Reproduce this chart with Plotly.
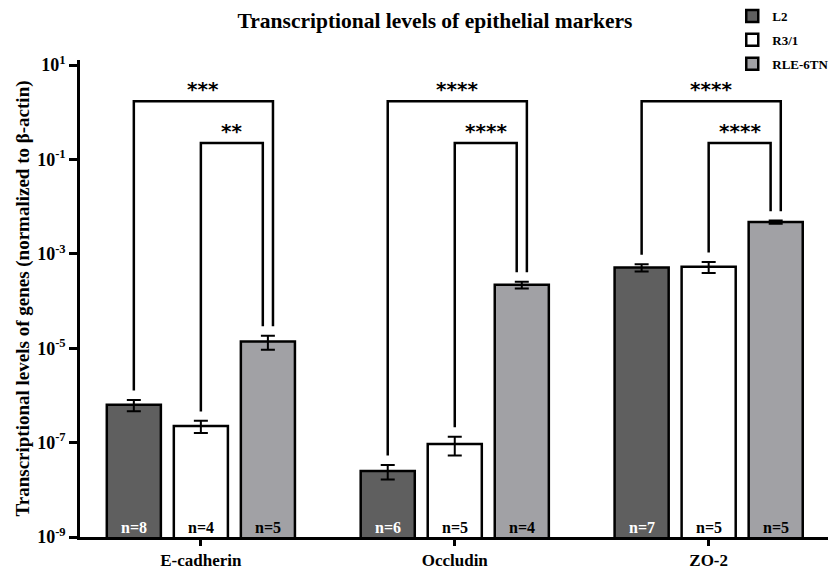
import math
import plotly.graph_objects as go

# ---------------- data ----------------
categories = ["E-cadherin", "Occludin", "ZO-2"]
series_names = ["L2", "R3/1", "RLE-6TN"]

l2_mean = [6.3e-7, 2.5e-8, 5.1e-4]
l2_sem = [1.7e-7, 0.85e-8, 0.9e-4]
r31_mean = [2.24e-7, 9.3e-8, 5.3e-4]
r31_sem = [0.65e-7, 4.0e-8, 1.4e-4]
rle_mean = [1.38e-5, 2.2e-4, 4.7e-3]
rle_sem = [0.45e-5, 0.35e-4, 0.35e-3]

n_l2 = [8, 6, 7]
n_r31 = [4, 5, 5]
n_rle = [5, 4, 5]

sig_outer = ["***", "****", "****"]   # L2 vs RLE-6TN
sig_inner = ["**", "****", "****"]    # R3/1 vs RLE-6TN

ytick_exponents = [1, -1, -3, -5, -7, -9]

# ---------------- styling ----------------
SERIF = "Liberation Serif, Times New Roman, serif"
STAR_FONT = "DejaVu Sans, sans-serif"
colors = ["#5f5f5f", "#ffffff", "#a1a1a5"]
text_colors = ["white", "black", "black"]
offsets = [-0.264, 0.0, 0.264]
bar_width = 0.213
leg_dx = 0.02
outer_y = 10 ** 0.23
inner_y = 10 ** -0.65
leg_gap = 10 ** 0.2

# page body has an 8px margin: figure is sized/offset to compensate
W, H, PAD = 839, 570, 8
FW, FH = W - PAD, H - PAD

means = [l2_mean, r31_mean, rle_mean]
sems = [l2_sem, r31_sem, rle_sem]
ns = [n_l2, n_r31, n_rle]

fig = go.Figure()

for s in range(3):
    xs = [i + offsets[s] for i in range(len(categories))]
    fig.add_trace(go.Bar(
        x=xs, y=means[s], width=bar_width, name="<b>%s</b>" % series_names[s],
        legendgroup=series_names[s],
        marker=dict(color=colors[s], line=dict(color="black", width=2.5)),
        error_y=dict(type="data", array=sems[s], color="black", thickness=2, width=7),
    ))

annotations = []
for i in range(len(categories)):
    top = [means[s][i] + sems[s][i] for s in range(3)]
    x_l2 = i + offsets[0]
    x_r = i + offsets[1]
    x_rle = i + offsets[2]
    fig.add_trace(go.Scatter(
        x=[x_l2, x_l2, x_rle + leg_dx, x_rle + leg_dx],
        y=[top[0] * leg_gap, outer_y, outer_y, top[2] * leg_gap],
        mode="lines", line=dict(color="black", width=2.5),
        showlegend=False, hoverinfo="skip"))
    fig.add_trace(go.Scatter(
        x=[x_r, x_r, x_rle - leg_dx, x_rle - leg_dx],
        y=[top[1] * leg_gap, inner_y, inner_y, top[2] * leg_gap],
        mode="lines", line=dict(color="black", width=2.5),
        showlegend=False, hoverinfo="skip"))
    annotations.append(dict(
        x=(x_l2 + x_rle + leg_dx) / 2, y=math.log10(outer_y), xref="x", yref="y",
        text="<b>%s</b>" % sig_outer[i], showarrow=False, yanchor="bottom", yshift=-2,
        font=dict(family=STAR_FONT, size=20, color="black")))
    annotations.append(dict(
        x=(x_r + x_rle - leg_dx) / 2, y=math.log10(inner_y), xref="x", yref="y",
        text="<b>%s</b>" % sig_inner[i], showarrow=False, yanchor="bottom", yshift=-2,
        font=dict(family=STAR_FONT, size=20, color="black")))
    for s in range(3):
        annotations.append(dict(
            x=i + offsets[s], y=-9, xref="x", yref="y",
            text="<b>n=%d</b>" % ns[s][i], showarrow=False, yanchor="bottom", yshift=-1,
            font=dict(family=SERIF, size=16, color=text_colors[s])))

annotations.append(dict(
    x=(22 - 80) / 748, y=0.5, xref="paper", yref="paper",
    text="<b>Transcriptional levels of genes (normalized to β-actin)</b>",
    textangle=-90, showarrow=False, xanchor="center", yanchor="middle",
    font=dict(family=SERIF, size=19, color="black")))

fig.update_layout(
    width=FW, height=FH,
    margin=dict(l=80 - PAD, r=11, t=60 - PAD, b=33, autoexpand=False),
    paper_bgcolor="white", plot_bgcolor="white",
    barmode="overlay",
    title=dict(text="<b>Transcriptional levels of epithelial markers</b>",
               x=(435 - PAD) / FW, xref="container", xanchor="center",
               y=1 - (20 - PAD) / FH, yref="container", yanchor="middle",
               font=dict(family=SERIF, size=21.5, color="black")),
    legend=dict(x=0.872, xref="paper", xanchor="left", y=1 + 59 / 477, yref="paper", yanchor="top",
                traceorder="grouped", tracegroupgap=4,
                font=dict(family=SERIF, size=13, color="black"),
                bgcolor="rgba(0,0,0,0)"),
    annotations=annotations,
    showlegend=True,
)

fig.update_xaxes(
    range=[-0.476, 2.47], tickvals=list(range(len(categories))),
    ticktext=["<b>%s</b>" % c for c in categories],
    showline=True, linecolor="black", linewidth=2.5,
    ticks="outside", ticklen=6, tickwidth=2.5, tickcolor="black",
    showgrid=False, zeroline=False,
    tickfont=dict(family=SERIF, size=17, color="black"),
)
fig.update_yaxes(
    type="log", range=[-9, 1.106],
    tickvals=[10 ** e for e in ytick_exponents],
    ticktext=["<b>10<sup>%d</sup></b>" % e for e in ytick_exponents],
    showline=True, linecolor="black", linewidth=2.5,
    ticks="outside", ticklen=8, tickwidth=2.5, tickcolor="black",
    showgrid=False, zeroline=False,
    tickfont=dict(family=SERIF, size=18, color="black"),
)

fig.write_html("out.html")
